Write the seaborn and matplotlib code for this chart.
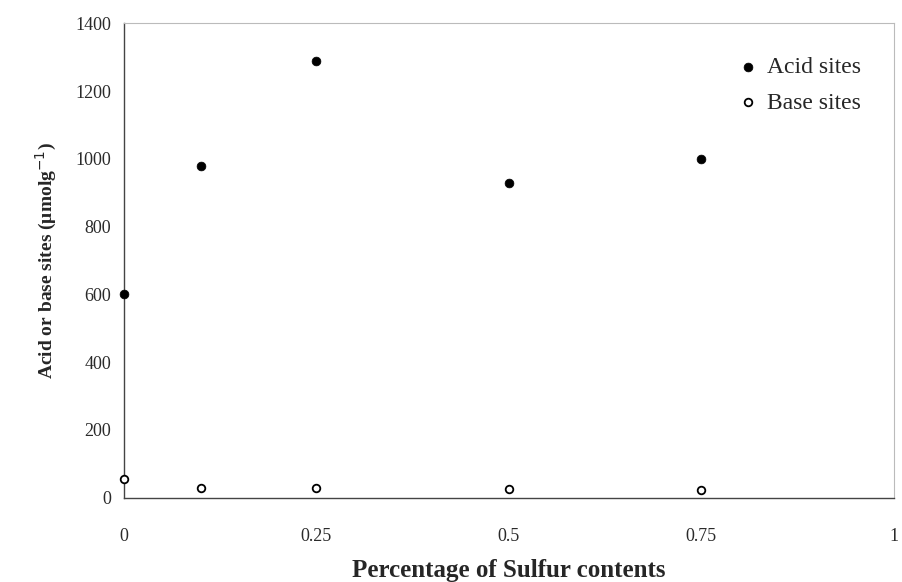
import pandas as pd
import matplotlib
matplotlib.use("Agg")
import matplotlib.pyplot as plt
import seaborn as sns

# Data
sulfur = [0, 0.1, 0.25, 0.5, 0.75]
acid_sites = [600, 980, 1290, 930, 1000]
base_sites = [56, 27, 28, 26, 21]

df = pd.DataFrame({
    "Sulfur": sulfur + sulfur,
    "Sites": acid_sites + base_sites,
    "Type": ["Acid sites"] * len(sulfur) + ["Base sites"] * len(sulfur),
})

sns.set_style("white")
plt.rcParams["font.family"] = ["Liberation Serif", "DejaVu Serif"]

fig = plt.figure(figsize=(9.03, 5.82), dpi=100)
ax = fig.add_axes([0.137, 0.145, 0.853, 0.815])

sns.scatterplot(data=df[df["Type"] == "Acid sites"], x="Sulfur", y="Sites",
                color="black", edgecolor="black", s=40, marker="o",
                label="Acid sites", ax=ax, clip_on=False, zorder=3)
sns.scatterplot(data=df[df["Type"] == "Base sites"], x="Sulfur", y="Sites",
                facecolor="white", edgecolor="black", linewidth=1.3, s=30,
                marker="o", label="Base sites", ax=ax, clip_on=False, zorder=3)

ax.set_xlim(0, 1)
ax.set_ylim(0, 1400)
ax.set_xticks([0, 0.25, 0.5, 0.75, 1])
ax.set_xticklabels(["0", "0.25", "0.5", "0.75", "1"])
ax.set_yticks(range(0, 1401, 200))
ax.tick_params(axis="both", labelsize=13, colors="#2a2a2a", length=4,
               direction="in")
ax.tick_params(axis="x", pad=22)
ax.tick_params(axis="y", pad=9)

for side in ["left", "bottom"]:
    ax.spines[side].set_color("#444444")
    ax.spines[side].set_linewidth(1.0)
for side in ["top", "right"]:
    ax.spines[side].set_color("#bbbbbb")
    ax.spines[side].set_linewidth(0.8)

ax.set_xlabel("Percentage of Sulfur contents", fontsize=18, fontweight="bold",
              labelpad=10)
ax.set_ylabel("Acid or base sites (\u03bcmolg$^{-1}$)", fontsize=14,
              fontweight="bold", labelpad=12)

leg = ax.legend(loc="upper right", frameon=False, fontsize=17,
                handlelength=1.0, handletextpad=0.3, labelspacing=0.6,
                borderaxespad=1.0)

fig.savefig("out.png", dpi=100)
